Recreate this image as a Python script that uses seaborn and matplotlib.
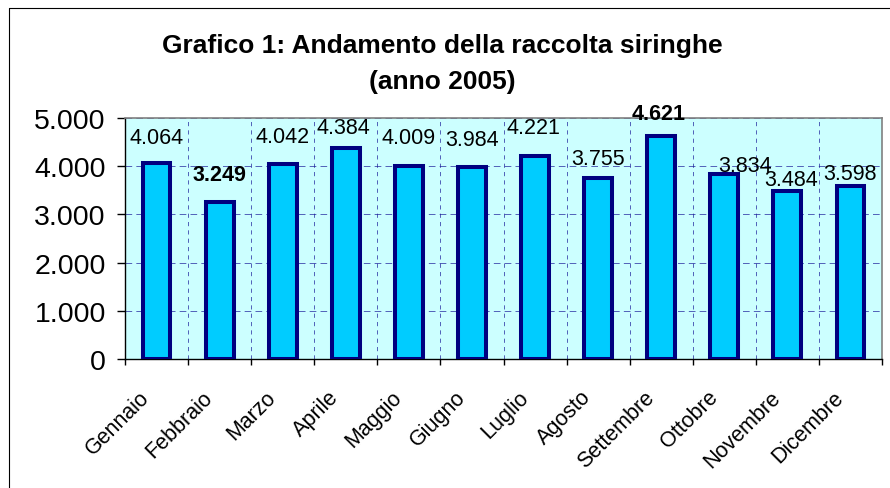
import numpy as np
import pandas as pd
import matplotlib
matplotlib.use("Agg")
import matplotlib.pyplot as plt
import matplotlib.ticker as mticker
import matplotlib.transforms as mtransforms
from matplotlib.lines import Line2D
import seaborn as sns

# ------------------------- Data -------------------------
mesi = ["Gennaio", "Febbraio", "Marzo", "Aprile", "Maggio", "Giugno",
        "Luglio", "Agosto", "Settembre", "Ottobre", "Novembre", "Dicembre"]
siringhe = [4064, 3249, 4042, 4384, 4009, 3984, 4221, 3755, 4621, 3834, 3484, 3598]
y_ticks = [0, 1000, 2000, 3000, 4000, 5000]
titolo = "Grafico 1: Andamento della raccolta siringhe\n(anno 2005)"

# label nudges in pixels (labels were hand-placed in the original)
label_dx = [0, 0, 0, -2, 0, 0, -2, 0, -3, 21, 4, 0]
label_dy = [26, 28, 28, 20, 28, 27, 28, 20, 23, 9, 12, 12]

df = pd.DataFrame({"mese": mesi, "siringhe": siringhe})


def punto_migliaia(v):
    return f"{int(v):,}".replace(",", ".")


# ------------------------- Style -------------------------
sns.set_style("white")
plt.rcParams["font.family"] = ["Liberation Sans", "DejaVu Sans"]
plt.rcParams["text.color"] = "black"
plt.rcParams["xtick.color"] = "black"
plt.rcParams["ytick.color"] = "black"

W, H = 890, 489
fig = plt.figure(figsize=(W / 100, H / 100), dpi=100)
ax = fig.add_axes([125 / W, 1 - 360 / H, (882 - 125) / W, (360 - 119) / H])
ax.set_facecolor("#CCFFFF")

# ------------------------- Bars -------------------------
sns.barplot(data=df, x="mese", y="siringhe", color="#00CCFF", saturation=1,
            width=0.44, edgecolor="#000080", linewidth=2.9, errorbar=None,
            ax=ax, zorder=3)

ax.set_xlim(-0.5, len(mesi) - 0.5)
ax.set_ylim(0, 5000)
ax.set_yticks(y_ticks)
ax.yaxis.set_major_formatter(mticker.FuncFormatter(lambda v, p: punto_migliaia(v)))
ax.set_xlabel("")
ax.set_ylabel("")

# grid: horizontal on values, vertical between categories
ax.set_axisbelow(True)
ax.set_xticks(np.arange(-0.5, len(mesi), 1), minor=True)
ax.yaxis.grid(True, color="#1a1a99", linestyle=(0, (8, 5)), linewidth=0.6, alpha=0.8)
ax.xaxis.grid(True, which="minor", color="#1a1a99", linestyle=(0, (5, 5)), linewidth=0.6, alpha=0.8)
ax.xaxis.grid(False, which="major")

ax.tick_params(axis="y", left=True, length=5.8, width=1, pad=8, labelsize=20.5)
ax.tick_params(axis="x", which="major", bottom=True, length=0, pad=25, labelsize=15.5)
ax.tick_params(axis="x", which="minor", bottom=True, length=4, width=1)

shift = mtransforms.ScaledTranslation(-10 / 100, 0, fig.dpi_scale_trans)
for lbl in ax.get_xticklabels():
    lbl.set_rotation(45)
    lbl.set_ha("right")
    lbl.set_va("center")
    lbl.set_rotation_mode("anchor")
    lbl.set_transform(lbl.get_transform() + shift)

for side in ["left", "bottom"]:
    ax.spines[side].set_color("black")
    ax.spines[side].set_linewidth(1)
for side in ["top", "right"]:
    ax.spines[side].set_color("#808080")
    ax.spines[side].set_linewidth(1.2)

# ------------------------- Data labels -------------------------
v_max, v_min = max(siringhe), min(siringhe)
for i, v in enumerate(siringhe):
    peso = "bold" if v in (v_max, v_min) else "normal"
    ax.annotate(punto_migliaia(v), xy=(i, v), xytext=(label_dx[i], label_dy[i]),
                textcoords="offset pixels", ha="center", va="center",
                fontsize=15.5, fontweight=peso, zorder=5, annotation_clip=False)

# ------------------------- Title and frame -------------------------
fig.text(0.497, 1 - 64 / H, titolo, ha="center", va="center",
         fontsize=19, fontweight="bold", linespacing=1.6)

fig.add_artist(Line2D([9 / W, 9 / W], [0, 1 - 9 / H], transform=fig.transFigure,
                      color="black", linewidth=0.8))
fig.add_artist(Line2D([9 / W, 1], [1 - 9 / H, 1 - 9 / H], transform=fig.transFigure,
                      color="black", linewidth=0.8))

fig.savefig("out.png", dpi=100)
